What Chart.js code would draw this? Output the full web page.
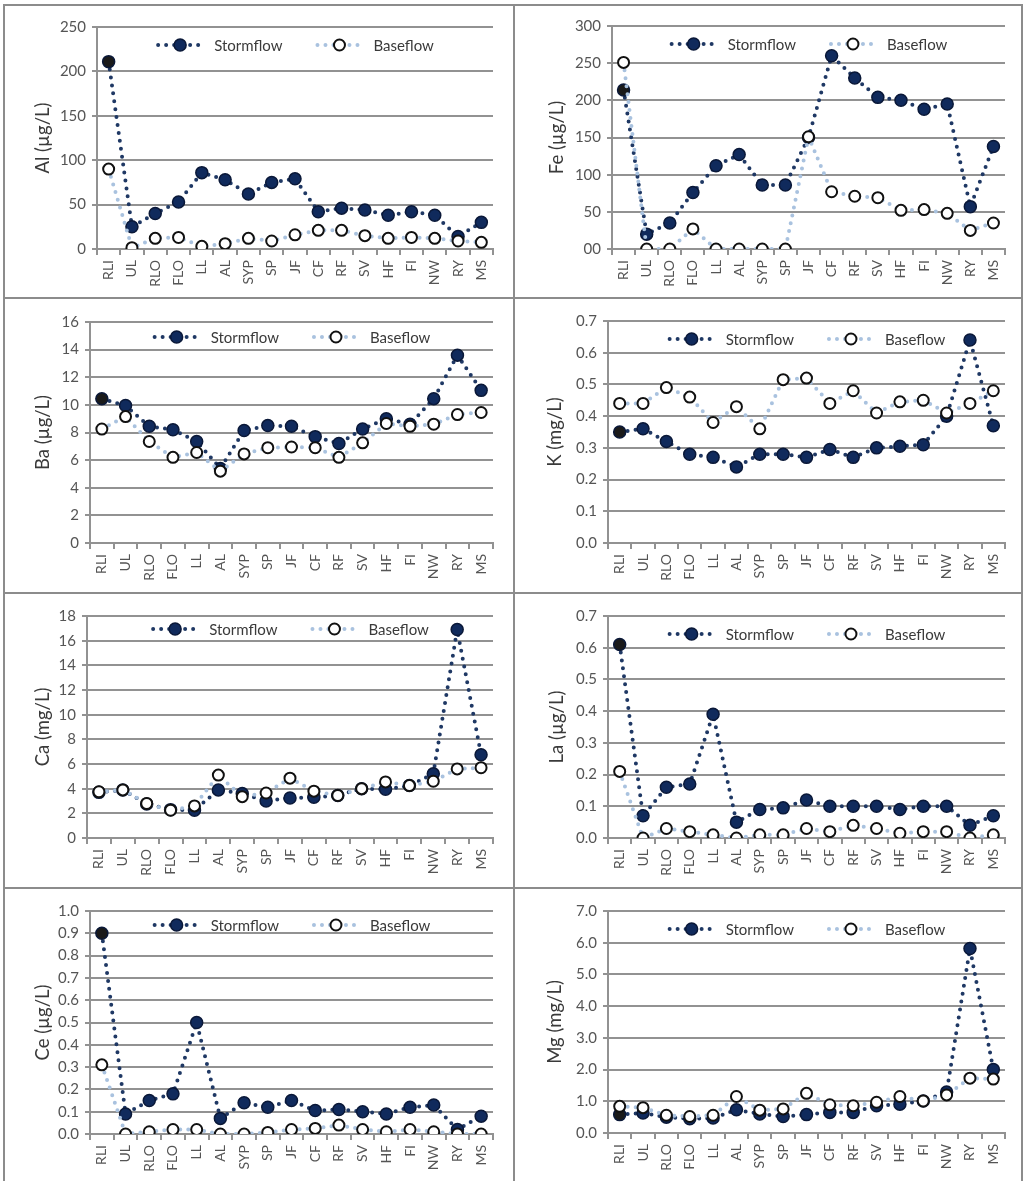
<!DOCTYPE html>
<html>
<head>
<meta charset="utf-8">
<title>Stormflow and baseflow concentrations by site</title>
<script src="https://cdn.jsdelivr.net/npm/chart.js@4.4.1/dist/chart.umd.min.js"></script>
<style>
  html, body { margin: 0; padding: 0; background: #fff; }
  body { width: 1025px; height: 1181px; overflow: hidden; position: relative; }
  .sheet {
    position: absolute; left: 3px; top: 4px;
    display: grid;
    grid-template-columns: 508px 506px;
    grid-template-rows: 291px 293px 293px 296px;
    gap: 2px;
    background: #8c8c8c;
    border: 2px solid #8c8c8c;
    border-bottom: none;
  }
  .cell { background: #fff; position: relative; }
  .cell canvas { display: block; }
</style>
</head>
<body>
<div class="sheet">
  <div class="cell"><canvas id="alChart"></canvas></div>
  <div class="cell"><canvas id="feChart"></canvas></div>
  <div class="cell"><canvas id="baChart"></canvas></div>
  <div class="cell"><canvas id="kChart"></canvas></div>
  <div class="cell"><canvas id="caChart"></canvas></div>
  <div class="cell"><canvas id="laChart"></canvas></div>
  <div class="cell"><canvas id="ceChart"></canvas></div>
  <div class="cell"><canvas id="mgChart"></canvas></div>
</div>
<script>
// --- 1. DATA (one value per site) ---
const sites = ["RLI", "UL", "RLO", "FLO", "LL", "AL", "SYP", "SP", "JF", "CF", "RF", "SV", "HF", "FI", "NW", "RY", "MS"];

const alStorm = [211, 25, 40, 53, 86, 78, 62, 75, 79, 42, 46, 44, 38, 42, 38, 14, 30];
const alBase  = [90, 1.5, 12, 13, 3, 6, 12, 9, 16, 21, 21, 15, 12, 13, 12, 9, 7.5];
const alTicks = ["0", "50", "100", "150", "200", "250"];

const feStorm = [214, 20, 35, 76, 112, 127, 86, 86, 150, 260, 230, 204, 200, 188, 195, 57, 138];
const feBase  = [251, 0, 0, 27, 0, 0, 0, 0, 151, 77, 71, 69, 52, 53, 48, 25, 35];
const feTicks = ["00", "50", "100", "150", "200", "250", "300"];

const baStorm = [10.45, 9.95, 8.45, 8.2, 7.35, 5.4, 8.15, 8.5, 8.45, 7.7, 7.2, 8.25, 9.0, 8.6, 10.45, 13.6, 11.05];
const baBase  = [8.25, 9.15, 7.35, 6.2, 6.55, 5.2, 6.45, 6.9, 6.95, 6.9, 6.2, 7.25, 8.65, 8.45, 8.6, 9.3, 9.45];
const baTicks = ["0", "2", "4", "6", "8", "10", "12", "14", "16"];

const kStorm = [0.35, 0.36, 0.32, 0.28, 0.27, 0.24, 0.28, 0.28, 0.27, 0.295, 0.27, 0.30, 0.305, 0.31, 0.40, 0.64, 0.37];
const kBase  = [0.44, 0.44, 0.49, 0.46, 0.38, 0.43, 0.36, 0.515, 0.52, 0.44, 0.48, 0.41, 0.445, 0.45, 0.41, 0.44, 0.48];
const kTicks = ["0.0", "0.1", "0.2", "0.3", "0.4", "0.5", "0.6", "0.7"];

const caStorm = [3.7, 3.9, 2.75, 2.3, 2.25, 3.9, 3.6, 3.0, 3.25, 3.3, 3.45, 4.0, 3.95, 4.25, 5.2, 16.9, 6.75];
const caBase  = [3.75, 3.9, 2.8, 2.25, 2.6, 5.1, 3.35, 3.65, 4.85, 3.8, 3.45, 4.0, 4.55, 4.25, 4.6, 5.6, 5.7];
const caTicks = ["0", "2", "4", "6", "8", "10", "12", "14", "16", "18"];

const laStorm = [0.61, 0.07, 0.16, 0.17, 0.39, 0.05, 0.09, 0.095, 0.12, 0.10, 0.10, 0.10, 0.09, 0.10, 0.10, 0.04, 0.07];
const laBase  = [0.21, 0.0, 0.03, 0.02, 0.01, 0.0, 0.01, 0.01, 0.03, 0.02, 0.04, 0.03, 0.015, 0.02, 0.02, 0.0, 0.01];
const laTicks = ["0.0", "0.1", "0.2", "0.3", "0.4", "0.5", "0.6", "0.7"];

const ceStorm = [0.90, 0.09, 0.15, 0.18, 0.50, 0.07, 0.14, 0.12, 0.15, 0.105, 0.11, 0.10, 0.09, 0.12, 0.13, 0.02, 0.08];
const ceBase  = [0.31, 0.0, 0.01, 0.02, 0.02, 0.0, 0.0, 0.007, 0.02, 0.025, 0.04, 0.02, 0.01, 0.02, 0.01, 0.0, 0.0];
const ceTicks = ["0.0", "0.1", "0.2", "0.3", "0.4", "0.5", "0.6", "0.7", "0.8", "0.9", "1.0"];

const mgStorm = [0.58, 0.63, 0.50, 0.45, 0.47, 0.73, 0.60, 0.52, 0.58, 0.65, 0.65, 0.86, 0.91, 1.01, 1.29, 5.82, 2.0];
const mgBase  = [0.84, 0.80, 0.56, 0.52, 0.56, 1.15, 0.72, 0.76, 1.25, 0.89, 0.86, 0.97, 1.15, 1.01, 1.20, 1.73, 1.70];
const mgTicks = ["0.0", "1.0", "2.0", "3.0", "4.0", "5.0", "6.0", "7.0"];

// --- 2. STYLE ---
const FONT = "Lato, 'Open Sans', sans-serif";
const GRID = '#929292';
const TICK_TEXT = '#555555';
const LABEL_TEXT = '#3a3a3a';
const STORM_LINE = '#1f3864';
const STORM_FILL = '#102a5c';
const STORM_FIRST = '#1a1a1a';
const BASE_LINE = '#a9c2df';
const DOT_DASH = [0, 8];

// plot box in page pixels [left, top, right, bottom], title centre x, legend drop below plot top
const panels = [
    { id: 'alChart', title: 'Al (\u00b5g/L)', storm: alStorm, base: alBase, ticks: alTicks, plot: [97, 27, 493, 249],  titleX: 43,  legendY: 18 },
    { id: 'feChart', title: 'Fe (\u00b5g/L)', storm: feStorm, base: feBase, ticks: feTicks, plot: [612, 26, 1005, 249], titleX: 557, legendY: 18 },
    { id: 'baChart', title: 'Ba (\u00b5g/L)', storm: baStorm, base: baBase, ticks: baTicks, plot: [90, 322, 493, 543],  titleX: 43,  legendY: 15 },
    { id: 'kChart',  title: 'K (mg/L)',       storm: kStorm,  base: kBase,  ticks: kTicks,  plot: [608, 321, 1005, 543], titleX: 555, legendY: 18 },
    { id: 'caChart', title: 'Ca (mg/L)',      storm: caStorm, base: caBase, ticks: caTicks, plot: [87, 616, 493, 838],  titleX: 43,  legendY: 13 },
    { id: 'laChart', title: 'La (\u00b5g/L)', storm: laStorm, base: laBase, ticks: laTicks, plot: [608, 616, 1005, 838], titleX: 557, legendY: 18 },
    { id: 'ceChart', title: 'Ce (\u00b5g/L)', storm: ceStorm, base: ceBase, ticks: ceTicks, plot: [90, 911, 493, 1134], titleX: 43,  legendY: 14 },
    { id: 'mgChart', title: 'Mg (mg/L)',      storm: mgStorm, base: mgBase, ticks: mgTicks, plot: [608, 911, 1005, 1133], titleX: 555, legendY: 18 }
];

// --- 3. LEGEND DRAWN INSIDE THE PLOT (line sample + marker) ---
const inlineLegend = {
    id: 'inlineLegend',
    afterDraw(chart, args, opts) {
        const { ctx, chartArea } = chart;
        const sampleW = 48, textGap = 10, itemGap = 33;
        ctx.save();
        ctx.font = `15px ${FONT}`;
        const items = chart.data.datasets.map(ds => ({ ds, w: ctx.measureText(ds.label).width }));
        const total = items.reduce((s, it) => s + sampleW + textGap + it.w, 0) + itemGap * (items.length - 1);
        let x = (chartArea.left + chartArea.right) / 2 - total / 2;
        const y = chartArea.top + opts.offset;

        items.forEach(it => {
            const ds = it.ds;
            ctx.strokeStyle = ds.borderColor;
            ctx.lineWidth = ds.borderWidth;
            ctx.lineCap = 'round';
            ctx.setLineDash(DOT_DASH);
            ctx.beginPath();
            ctx.moveTo(x + 2, y);
            ctx.lineTo(x + sampleW, y);
            ctx.stroke();
            ctx.setLineDash([]);

            ctx.beginPath();
            ctx.arc(x + sampleW / 2, y, ds.pointRadius, 0, Math.PI * 2);
            ctx.fillStyle = ds.legendFill;
            ctx.fill();
            ctx.lineWidth = ds.pointBorderWidth;
            ctx.strokeStyle = ds.pointBorderColor;
            ctx.stroke();

            ctx.fillStyle = LABEL_TEXT;
            ctx.textBaseline = 'middle';
            ctx.textAlign = 'left';
            ctx.fillText(ds.label, x + sampleW + textGap, y + 1);
            x += sampleW + textGap + it.w + itemGap;
        });
        ctx.restore();
    }
};

// --- 4. BUILD ONE PANEL ---
function buildPanel(p) {
    const canvas = document.getElementById(p.id);
    const cell = canvas.parentElement;
    const box = cell.getBoundingClientRect();
    canvas.width = cell.clientWidth;
    canvas.height = cell.clientHeight;

    const [left, top, right, bottom] = p.plot;
    const step = parseFloat(p.ticks[1]);
    const max = parseFloat(p.ticks[p.ticks.length - 1]);
    const titleSize = 18.5;

    new Chart(canvas, {
        type: 'line',
        data: {
            labels: sites,
            datasets: [
                {
                    label: 'Stormflow',
                    data: p.storm,
                    order: 1,
                    borderColor: STORM_LINE,
                    borderWidth: 4,
                    borderDash: DOT_DASH,
                    borderCapStyle: 'round',
                    pointRadius: 6,
                    pointBorderWidth: 1.5,
                    pointBorderColor: '#0a1838',
                    pointBackgroundColor: p.storm.map((_, i) => i === 0 ? STORM_FIRST : STORM_FILL),
                    legendFill: STORM_FILL
                },
                {
                    label: 'Baseflow',
                    data: p.base,
                    order: 0,
                    borderColor: BASE_LINE,
                    borderWidth: 4,
                    borderDash: DOT_DASH,
                    borderCapStyle: 'round',
                    pointRadius: 5.5,
                    pointBorderWidth: 2,
                    pointBorderColor: '#111111',
                    pointBackgroundColor: '#ffffff',
                    legendFill: '#ffffff'
                }
            ]
        },
        options: {
            responsive: false,
            animation: false,
            devicePixelRatio: 1,
            events: [],
            layout: { padding: { left: 0, top: top - box.top, right: box.right - right, bottom: 0 } },
            plugins: {
                legend: { display: false },
                tooltip: { enabled: false },
                inlineLegend: { offset: p.legendY }
            },
            scales: {
                x: {
                    offset: true,
                    grid: { offset: true, drawOnChartArea: false, drawTicks: true, tickLength: 6, color: GRID, lineWidth: 2 },
                    border: { color: GRID, width: 2 },
                    ticks: { minRotation: 90, maxRotation: 90, autoSkip: false, padding: 5, color: TICK_TEXT, font: { family: FONT, size: 14 } },
                    afterFit(s) { s.height = box.bottom - bottom; }
                },
                y: {
                    min: 0,
                    max: max,
                    grid: { color: GRID, lineWidth: 2, drawTicks: true, tickLength: 5 },
                    border: { color: GRID, width: 2 },
                    ticks: {
                        stepSize: step,
                        padding: 6,
                        color: TICK_TEXT,
                        font: { family: FONT, size: 15 },
                        callback: v => p.ticks[Math.round(v / step)]
                    },
                    title: {
                        display: true,
                        text: p.title,
                        color: LABEL_TEXT,
                        font: { family: FONT, size: titleSize, lineHeight: 1.2 },
                        padding: { top: p.titleX - box.left - titleSize * 0.6, bottom: 0 }
                    },
                    afterFit(s) { s.width = left - box.left; }
                }
            }
        },
        plugins: [inlineLegend]
    });
}

// --- 5. INIT ---
panels.forEach(buildPanel);
</script>
</body>
</html>
